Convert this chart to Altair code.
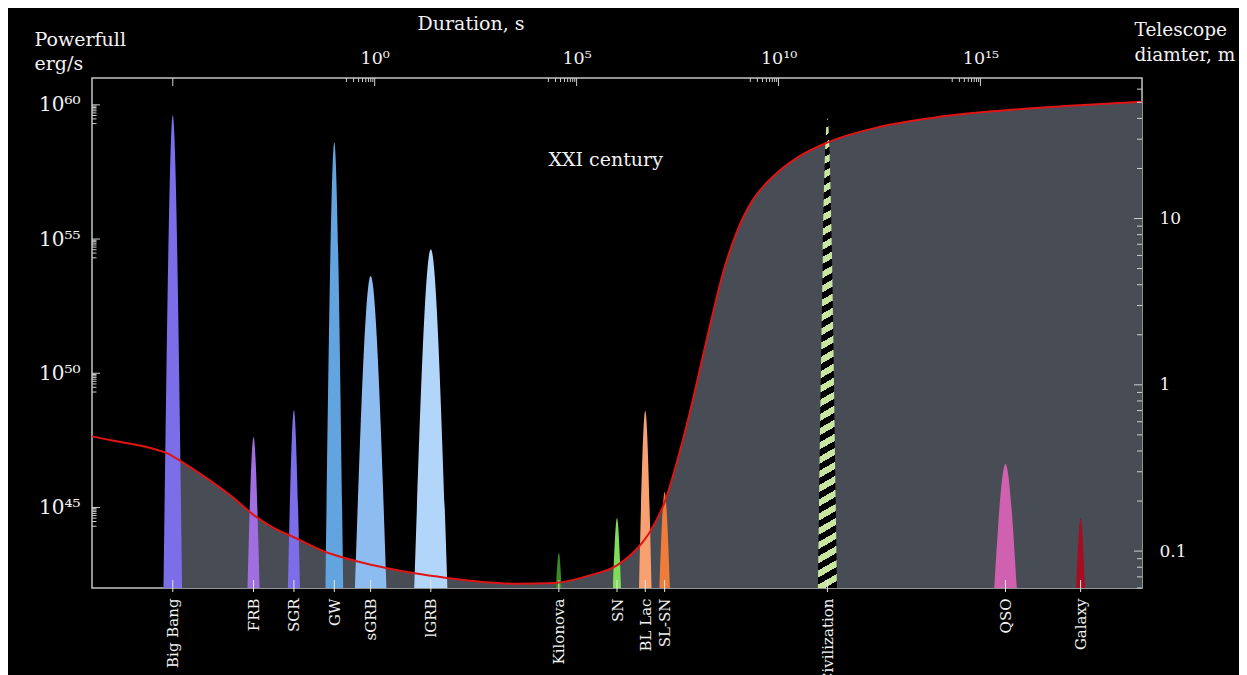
import altair as alt
import pandas as pd
import math

# ---------------- data ----------------
names = ["Big Bang", "FRB", "SGR", "GW", "sGRB", "lGRB", "Kilonova", "SN",
         "BL Lac", "SL-SN", "Civilization", "QSO", "Galaxy"]
log_duration = [-5.0, -3.0, -2.0, -1.0, -0.1, 1.39, 4.56, 6.0, 6.7, 7.18, 11.21, 15.62, 17.48]
log_power = [59.61, 47.63, 48.63, 58.61, 53.62, 54.62, 43.31, 44.61, 48.6, 45.58, 59.5, 46.62, 44.61]
half_width = [0.23, 0.15, 0.15, 0.22, 0.39, 0.41, 0.07, 0.10, 0.155, 0.13, 0.235, 0.28, 0.11]
colors = ["#7b6ee8", "#a06ee0", "#7b6ee8", "#62a4e0", "#8cbcf0", "#b2d6fa", "#3a8c22",
          "#80dd5a", "#f8a070", "#f07c3a", "#c8e6a0", "#d060b0", "#a80c20"]

# telescope diameter curve (XXI century sensitivity)
curve_log_duration = [-7.0, -6.97, -5.46, -5.155, -4.756, -4.137, -3.518, -3.033, -2.458, -2.015,
                      -1.22, -0.42, 0.283, 0.992, 1.787, 2.673, 3.557, 4.441, 5.325, 5.997,
                      6.56, 6.81, 7.18, 7.55, 7.884, 8.09, 8.339, 8.626, 8.958, 9.369,
                      9.865, 10.444, 11.187, 12.507, 13.99, 15.48, 17.21, 19.0]
curve_diameter = [0.49, 0.488, 0.411, 0.389, 0.342, 0.272, 0.211, 0.1675, 0.136, 0.1216,
                  0.0988, 0.0867, 0.0792, 0.0735, 0.069, 0.0653, 0.0637, 0.0643, 0.0715, 0.082,
                  0.1077, 0.130, 0.197, 0.393, 0.821, 1.362, 2.477, 4.72, 8.2, 13.0,
                  17.9, 23.1, 28.5, 35.6, 40.9, 44.5, 47.6, 50.4]

# axes ticks / labels
top_major = [-5, 0, 5, 10, 15]
top_labelled = [0, 5, 10, 15]
top_labels = ["10⁰", "10⁵", "10¹⁰", "10¹⁵"]
left_major = [45, 50, 55, 60]
left_labels = ["10⁴⁵", "10⁵⁰", "10⁵⁵", "10⁶⁰"]
right_major = [0.1, 1, 10]
right_minor = [0.06, 0.07, 0.08, 0.09, 0.2, 0.3, 0.4, 0.5, 0.6, 0.7, 0.8, 0.9,
               2, 3, 4, 5, 6, 7, 8, 9, 20, 30, 40, 50, 60]
minor_steps = [2, 3, 4, 5, 6, 7, 8, 9]

X_MIN, X_MAX = -7, 19
Y_MIN, Y_MAX = 42, 61
D_MIN, D_MAX = 0.06, 70
W, H = 1050, 510
FONT = "DejaVu Serif"
FG = "#f2f2f2"
TICK = "#cfcfcf"

# ---------------- tables ----------------
events = pd.DataFrame({"name": names, "t": log_duration, "L": log_power,
                       "hw": half_width, "color": colors})
rows = []
for n, t, L, hw in zip(names, log_duration, log_power, half_width):
    rows += [{"name": n, "t": t - hw, "L": Y_MIN},
             {"name": n, "t": t, "L": L},
             {"name": n, "t": t + hw, "L": Y_MIN}]
spikes = pd.DataFrame(rows)
civ = spikes[spikes["name"] == "Civilization"]
others = spikes[spikes["name"] != "Civilization"]
other_names = [n for n in names if n != "Civilization"]
other_colors = [c for n, c in zip(names, colors) if n != "Civilization"]

curve = pd.DataFrame({"t": curve_log_duration, "d": curve_diameter})

top_minor = [m - 1 + math.log10(k) for m in top_labelled for k in minor_steps]
left_minor = [m - 1 + math.log10(k) for m in left_major for k in minor_steps]

def ternary(values, labels):
    parts = [f"abs(datum.value - ({v})) < 0.001 ? '{l}'" for v, l in zip(values, labels)]
    return " : ".join(parts) + " : ''"

xscale = alt.Scale(domain=[X_MIN, X_MAX], nice=False, zero=False)
yscale = alt.Scale(domain=[Y_MIN, Y_MAX], nice=False, zero=False)
dscale = alt.Scale(type="log", domain=[D_MIN, D_MAX], nice=False)

top_axis = alt.Axis(orient="top", values=top_labelled, labelExpr=ternary(top_labelled, top_labels),
                    ticks=False, tickSize=0, domain=False, grid=False,
                    labelFont=FONT, labelFontSize=17.5, labelColor=FG, labelPadding=11,
                    labelAngle=0, labelFlush=False, labelOverlap=False,
                    title="Duration, s", titleFont=FONT, titleFontSize=19, titleFontWeight="normal",
                    titleColor=FG, titleAngle=0, titleAlign="left", titleBaseline="alphabetic",
                    titleX=325, titleY=-49)
bottom_axis = alt.Axis(orient="bottom", values=log_duration, labelExpr=ternary(log_duration, names),
                       ticks=False, tickSize=0, domain=False, grid=False,
                       labelFont=FONT, labelFontSize=15, labelColor=FG, labelPadding=10,
                       labelAngle=270, labelAlign="right", labelBaseline="middle",
                       labelFlush=False, labelOverlap=False, labelBound=False, title=None)
left_axis = alt.Axis(orient="left", values=left_major, labelExpr=ternary(left_major, left_labels),
                     ticks=False, tickSize=0, domain=False, grid=False,
                     labelFont=FONT, labelFontSize=20, labelColor=FG, labelPadding=12,
                     title=["Powerfull", "erg/s"], titleFont=FONT, titleFontSize=19,
                     titleFontWeight="normal", titleColor=FG, titleAngle=0, titleAlign="left",
                     titleBaseline="alphabetic", titleX=-58, titleY=-33, titleLineHeight=24)
right_axis = alt.Axis(orient="right", values=right_major, format="~g",
                      ticks=False, tickSize=0, domain=False, grid=False,
                      labelFont=FONT, labelFontSize=17, labelColor=FG, labelPadding=17,
                      title=["Telescope", "diamter, m"], titleFont=FONT, titleFontSize=18.5,
                      titleFontWeight="normal", titleColor=FG, titleAngle=0, titleAlign="left",
                      titleBaseline="alphabetic", titleX=-8, titleY=-43, titleLineHeight=25)

XT = alt.X("t:Q", scale=xscale, axis=top_axis)
YL = alt.Y("L:Q", scale=yscale, axis=left_axis)

# ---------- civilization stripes (gradient) ----------
theta = math.radians(30)
bw, bh = 19.0, 470.0
ratio = (math.cos(theta) / bw) / (math.sin(theta) / bh)
a = (1 + ratio) / (1 + ratio ** 2)
gx2, gy2 = a, a * ratio
extent = bw * math.sin(theta) + bh * math.cos(theta)
period = 14 * math.cos(theta)
n_per = int(round(extent / period))
stops = []
for i in range(n_per):
    o0, o1, o2 = i / n_per, (i + 0.5) / n_per, (i + 1) / n_per
    stops += [{"offset": o0, "color": "#c8e6a0"}, {"offset": o1, "color": "#c8e6a0"},
              {"offset": o1, "color": "#000000"}, {"offset": o2, "color": "#000000"}]
stripe_fill = {"gradient": "linear", "x1": 0, "y1": 0, "x2": gx2, "y2": gy2, "stops": stops}

# ---------------- layers ----------------
gray_area = alt.Chart(curve).transform_filter("datum.t >= -5.2").mark_area(
    color="#474c55", interpolate="monotone", opacity=1).encode(
    x=alt.X("t:Q", scale=xscale, axis=bottom_axis),
    y=alt.Y("d:Q", scale=dscale, axis=None),
    y2=alt.datum(D_MIN))

spike_layer = alt.Chart(others).mark_area(interpolate="monotone", opacity=1).encode(
    x=XT, y=YL, y2=alt.datum(Y_MIN),
    color=alt.Color("name:N", scale=alt.Scale(domain=other_names, range=other_colors), legend=None))

civ_layer = alt.Chart(civ).mark_area(interpolate="monotone", fill=stripe_fill, opacity=1).encode(
    x=XT, y=YL, y2=alt.datum(Y_MIN))

xxi = alt.Chart(pd.DataFrame({"t": [5.72], "L": [57.94], "text": ["XXI century"]})).mark_text(
    font=FONT, fontSize=19, color=FG, align="center", baseline="middle").encode(
    x=XT, y=YL, text="text:N")

left_major_df = pd.DataFrame({"L": left_major})
left_minor_df = pd.DataFrame({"L": left_minor})
top_major_df = pd.DataFrame({"t": top_major})
top_minor_df = pd.DataFrame({"t": top_minor})

lt_major = alt.Chart(left_major_df).mark_rule(color=TICK, strokeWidth=1).encode(
    y=YL, x=alt.value(0), x2=alt.value(8))
lt_minor = alt.Chart(left_minor_df).mark_rule(color=TICK, strokeWidth=1).encode(
    y=YL, x=alt.value(0), x2=alt.value(4.5))
tt_major = alt.Chart(top_major_df).mark_rule(color=TICK, strokeWidth=1).encode(
    x=XT, y=alt.value(0), y2=alt.value(8))
tt_minor = alt.Chart(top_minor_df).mark_rule(color=TICK, strokeWidth=1).encode(
    x=XT, y=alt.value(0), y2=alt.value(4))
ev_ticks = alt.Chart(events).mark_rule(color="#e8e8e8", strokeWidth=1).encode(
    x=XT, y=alt.value(H - 8), y2=alt.value(H + 4))

left_group = alt.layer(spike_layer, civ_layer, xxi, lt_major, lt_minor, tt_major, tt_minor, ev_ticks)

red_line = alt.Chart(curve).mark_line(color="#e01414", strokeWidth=2, interpolate="monotone").encode(
    x=alt.X("t:Q", scale=xscale, axis=None),
    y=alt.Y("d:Q", scale=dscale, axis=right_axis))
rt_major = alt.Chart(pd.DataFrame({"d": right_major})).mark_rule(color=TICK, strokeWidth=1).encode(
    y=alt.Y("d:Q", scale=dscale, axis=right_axis), x=alt.value(W), x2=alt.value(W - 8))
rt_minor = alt.Chart(pd.DataFrame({"d": right_minor})).mark_rule(color=TICK, strokeWidth=1).encode(
    y=alt.Y("d:Q", scale=dscale, axis=right_axis), x=alt.value(W), x2=alt.value(W - 5))
line_group = alt.layer(red_line, rt_major, rt_minor)

chart = alt.layer(gray_area, left_group, line_group).resolve_scale(
    y="independent").resolve_axis(x="independent", y="independent").properties(
    width=W, height=H, background="black",
    autosize=alt.AutoSizeParams(type="none"),
    padding={"left": 84, "top": 70, "right": 97, "bottom": 87}
).configure_view(stroke="#c4c4c4", strokeWidth=1.5)

chart.save("out.html", embed_options={"renderer": "svg", "actions": False})
